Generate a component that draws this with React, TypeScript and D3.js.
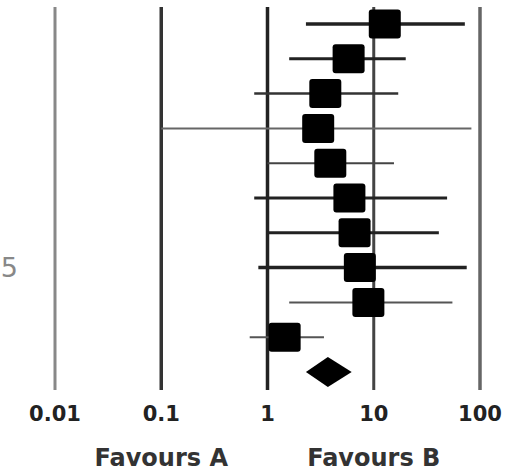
import * as d3 from "d3"

// study estimates (odds ratios) and 95% CIs, top to bottom
const studies = ["S1", "S2", "S3", "S4", "S5", "S6", "S7", "S8", "S9", "S10"]
const estimates = [12.7, 5.8, 3.5, 3.0, 3.9, 5.9, 6.6, 7.4, 8.9, 1.45]
const lowerCI = [2.3, 1.6, 0.75, 0.1, 1.0, 0.75, 1.0, 0.82, 1.6, 0.68]
const upperCI = [72, 20, 17, 83, 15.5, 49, 41, 75, 55, 3.4]

// pooled estimate
const pooled = { est: 3.7, lo: 2.3, hi: 6.2 }

const tickValues = [0.01, 0.1, 1, 10, 100]
const tickLabels = ["0.01", "0.1", "1", "10", "100"]
const sideLabels = ["Favours A", "Favours B"]

// styling per row / gridline
const ciWidth = [3.5, 3, 2.5, 2, 2, 3, 3, 3.5, 2, 2]
const ciColor = ["#222", "#222", "#333", "#666", "#444", "#222", "#222", "#222", "#555", "#555"]
const gridStyle = [
    { w: 3, c: "#888" },
    { w: 3.5, c: "#333" },
    { w: 3.5, c: "#222" },
    { w: 3, c: "#444" },
    { w: 3.5, c: "#666" },
]

export default function App() {
    const width = 518
    const height = 475

    const x = d3.scaleLog().domain([0.01, 100]).range([55, 480])
    const rows = [...studies, "pooled"]
    const y = d3.scalePoint<string>().domain(rows).range([24, 372])

    const sqW = 32
    const sqH = 29
    const dh = 15

    const py = y("pooled")!
    const diamond = d3.line()([
        [x(pooled.lo), py],
        [x(pooled.est), py - dh],
        [x(pooled.hi), py],
        [x(pooled.est), py + dh],
    ]) + "Z"

    const font = "'DejaVu Sans', Verdana, sans-serif"

    return (
        <svg width={width} height={height} viewBox={`0 0 ${width} ${height}`}
            style={{ position: "absolute", left: 0, top: 0, background: "#fff" }}>
            {/* vertical reference lines */}
            {tickValues.map((t, i) => (
                <line key={t} x1={x(t)} x2={x(t)} y1={7} y2={390}
                    stroke={gridStyle[i].c} strokeWidth={gridStyle[i].w} />
            ))}

            {/* confidence intervals */}
            {studies.map((s, i) => (
                <line key={s} x1={x(lowerCI[i])} x2={x(upperCI[i])} y1={y(s)} y2={y(s)}
                    stroke={ciColor[i]} strokeWidth={ciWidth[i]} />
            ))}

            {/* point estimates */}
            {studies.map((s, i) => (
                <rect key={s} x={x(estimates[i]) - sqW / 2} y={y(s)! - sqH / 2}
                    width={sqW} height={sqH} rx={3} fill="#000" />
            ))}

            <path d={diamond} fill="#000" />

            {/* tick labels */}
            {tickValues.map((t, i) => (
                <text key={t} x={x(t)} y={421} textAnchor="middle" fontFamily={font}
                    fontWeight="bold" fontSize={21} fill="#222">{tickLabels[i]}</text>
            ))}

            <text x={x(0.1)} y={466} textAnchor="middle" fontFamily={font}
                fontWeight="bold" fontSize={24} fill="#333">{sideLabels[0]}</text>
            <text x={x(10)} y={466} textAnchor="middle" fontFamily={font}
                fontWeight="bold" fontSize={24} fill="#333">{sideLabels[1]}</text>

            {/* clipped label at the left edge */}
            <text x={18} y={277} textAnchor="end" fontFamily={font}
                fontSize={27} fill="#888">5</text>
        </svg>
    )
}
